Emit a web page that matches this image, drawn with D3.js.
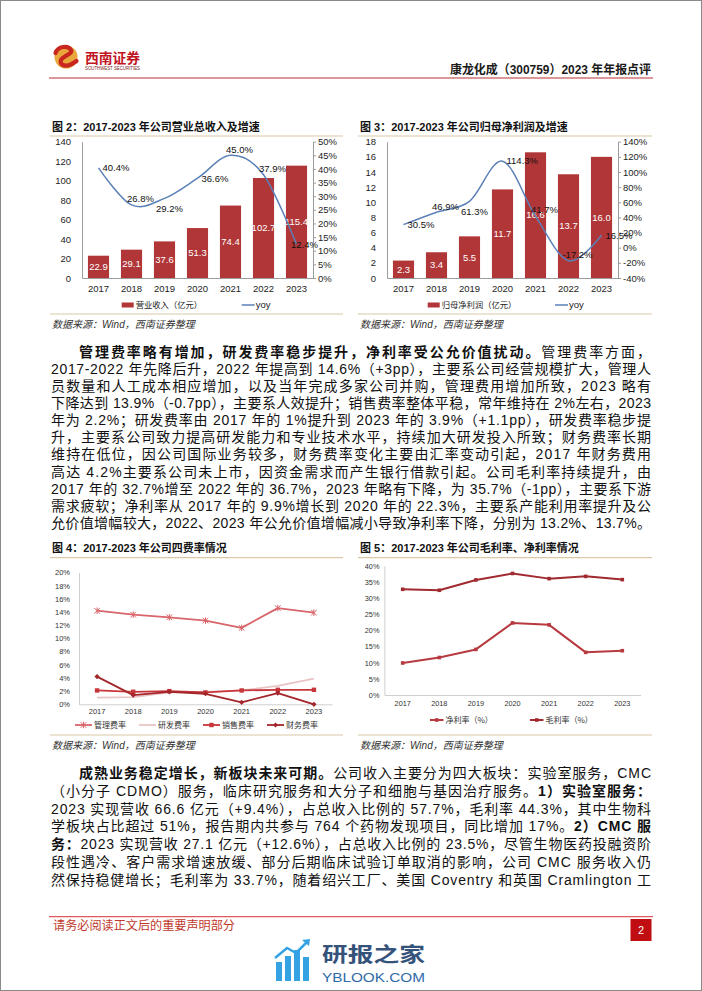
<!DOCTYPE html>
<html><head><meta charset="utf-8">
<script src="https://cdn.jsdelivr.net/npm/d3@7"></script>
<style>
body{margin:0;background:#fff;}
#page{position:relative;width:702px;height:991px;overflow:hidden;background:#fff;}
svg{position:absolute;left:0;top:0;}
</style></head>
<body><div id="page"></div>
<script>
// ---------------- DATA ----------------
const years = ['2017','2018','2019','2020','2021','2022','2023'];
// Fig 2
const revenue = [22.9, 29.1, 37.6, 51.3, 74.4, 102.7, 115.4];
const revenueYoy = [40.4, 26.8, 29.2, 36.6, 45.0, 37.9, 12.4];
const revLeftTicks = [0,20,40,60,80,100,120,140];
const revRightTicks = [0,5,10,15,20,25,30,35,40,45,50];
const revYoyLabelPlace = ['r','a','b','r','a','a','c'];
// Fig 3
const profit = [2.3, 3.4, 5.5, 11.7, 16.6, 13.7, 16.0];
const profitYoy = [30.5, 46.9, 61.3, 114.3, 41.7, -17.2, 16.5];
const profLeftTicks = [0,2,4,6,8,10,12,14,16,18];
const profRightTicks = [-40,-20,0,20,40,60,80,100,120,140];
const profYoyLabelPlace = ['r','a','b','r','a','a','r'];
// Fig 4
const mgmtRate  = [14.2, 13.6, 13.2, 12.7, 11.6, 14.6, 13.9];
const rdRate    = [1.0, 1.1, 1.8, 1.9, 2.1, 2.8, 3.9];
const salesRate = [2.1, 1.9, 2.0, 1.8, 2.1, 2.2, 2.2];
const finRate   = [4.2, 1.4, 1.9, 1.6, 0.3, 1.7, 0.0];
const feeTicks = [0,2,4,6,8,10,12,14,16,18,20];
const feeNames = ['管理费率','研发费率','销售费率','财务费率'];
// Fig 5
const netMargin   = [9.9, 11.6, 14.1, 22.3, 21.7, 13.2, 13.7];
const grossMargin = [32.7, 32.4, 35.6, 37.6, 36.0, 36.7, 35.7];
const marginTicks = [0,5,10,15,20,25,30,35,40];
const marginNames = ['净利率（%）','毛利率（%）'];

const titles = ['图 2：2017-2023 年公司营业总收入及增速','图 3：2017-2023 年公司归母净利润及增速',
                '图 4：2017-2023 年公司四费率情况','图 5：2017-2023 年公司毛利率、净利率情况'];
const sourceText = '数据来源：Wind，西南证券整理';

const para1 = [
 [['管理费率略有增加，研发费率稳步提升，净利率受公允价值扰动。',1],['管理费率方面，',0]],
 [['2017-2022 年先降后升，2022 年提高到 14.6%（+3pp），主要系公司经营规模扩大，管理人',0]],
 [['员数量和人工成本相应增加，以及当年完成多家公司并购，管理费用增加所致，2023 略有',0]],
 [['下降达到 13.9%（-0.7pp），主要系人效提升；销售费率整体平稳，常年维持在 2%左右，2023',0]],
 [['年为 2.2%；研发费率由 2017 年的 1%提升到 2023 年的 3.9%（+1.1pp），研发费率稳步提',0]],
 [['升，主要系公司致力提高研发能力和专业技术水平，持续加大研发投入所致；财务费率长期',0]],
 [['维持在低位，因公司国际业务较多，财务费率变化主要由汇率变动引起，2017 年财务费用',0]],
 [['高达 4.2%主要系公司未上市，因资金需求而产生银行借款引起。公司毛利率持续提升，由',0]],
 [['2017 年的 32.7%增至 2022 年的 36.7%，2023 年略有下降，为 35.7%（-1pp），主要系下游',0]],
 [['需求疲软；净利率从 2017 年的 9.9%增长到 2020 年的 22.3%，主要系产能利用率提升及公',0]],
 [['允价值增幅较大，2022、2023 年公允价值增幅减小导致净利率下降，分别为 13.2%、13.7%。',0]]
];
const para2 = [
 [['成熟业务稳定增长，新板块未来可期。',1],['公司收入主要分为四大板块：实验室服务，CMC',0]],
 [['（小分子 CDMO）服务，临床研究服务和大分子和细胞与基因治疗服务。',0],['1）实验室服务：',1]],
 [['2023 实现营收 66.6 亿元（+9.4%），占总收入比例的 57.7%，毛利率 44.3%，其中生物科',0]],
 [['学板块占比超过 51%，报告期内共参与 764 个药物发现项目，同比增加 17%。',0],['2）CMC 服',1]],
 [['务：',1],['2023 实现营收 27.1 亿元（+12.6%），占总收入比例的 23.5%，尽管生物医药投融资阶',0]],
 [['段性遇冷、客户需求增速放缓、部分后期临床试验订单取消的影响，公司 CMC 服务收入仍',0]],
 [['然保持稳健增长；毛利率为 33.7%，随着绍兴工厂、美国 Coventry 和英国 Cramlington 工',0]]
];

// ---------------- STYLE ----------------
const FONT = '"Liberation Sans","Noto Sans CJK SC",Arial,sans-serif';
const CJK = '"Noto Sans CJK SC","Liberation Sans",sans-serif';
const BAR = '#b13638';
const BLUE = '#5b80b8';
const TAN = '#dcc7a6';

const svg = d3.select('#page').append('svg').attr('width',702).attr('height',991);

// page border
svg.append('rect').attr('x',0.5).attr('y',0.5).attr('width',701).attr('height',990)
  .attr('fill','none').attr('stroke','#8a8a8a').attr('stroke-width',1);

// ---------------- HEADER ----------------
const hdr = svg.append('g');
hdr.append('circle').attr('cx',66).attr('cy',57).attr('r',11.5).attr('fill','#eaa73c');
hdr.append('path').attr('d','M55.5,53 C58,46 68,45 71,50 C73,54 63,56 61,60 C59,65 66,69 76.5,61')
  .attr('fill','none').attr('stroke','#c8261e').attr('stroke-width',4.2).attr('stroke-linecap','round');
hdr.append('text').attr('x',85).attr('y',63).text('西南证券')
  .attr('font-family',CJK).attr('font-weight','bold').attr('font-size',13.5).attr('fill','#c0141e')
  .attr('textLength',55).attr('lengthAdjust','spacingAndGlyphs');
hdr.append('text').attr('x',85).attr('y',69.5).text('SOUTHWEST SECURITIES')
  .attr('font-family',FONT).attr('font-size',4.6).attr('fill','#7a1a1a')
  .attr('textLength',55).attr('lengthAdjust','spacingAndGlyphs');
hdr.append('text').attr('x',651).attr('y',74).attr('text-anchor','end').text('康龙化成（300759）2023 年年报点评')
  .attr('font-family',FONT).attr('font-weight','bold').attr('font-size',12.5).attr('fill','#1a1a1a')
  .attr('textLength',201).attr('lengthAdjust','spacingAndGlyphs');
hdr.append('line').attr('x1',49).attr('x2',653).attr('y1',78).attr('y2',78)
  .attr('stroke','#d27476').attr('stroke-width',1.3);

// ---------------- FRAMES ----------------
function frame(x0, x1, title, titleY, lineY, bottomY, srcY){
  const g = svg.append('g');
  g.append('text').attr('x',x0+2).attr('y',titleY).text(title)
   .attr('font-family',FONT).attr('font-weight','bold').attr('font-size',11).attr('fill','#111');
  g.append('line').attr('x1',x0).attr('x2',x1).attr('y1',lineY).attr('y2',lineY).attr('stroke',TAN).attr('stroke-width',1.2);
  g.append('line').attr('x1',x0).attr('x2',x1).attr('y1',bottomY).attr('y2',bottomY).attr('stroke',TAN).attr('stroke-width',1.2);
  g.append('text').attr('x',x0+2).attr('y',srcY).text(sourceText)
   .attr('font-family',FONT).attr('font-style','italic').attr('font-size',10).attr('fill','#333');
}
frame(50, 343, titles[0], 131, 136, 314, 328);
frame(358, 652, titles[1], 131, 136, 314, 328);
frame(50, 343, titles[2], 551.5, 557.7, 735, 749);
frame(358, 652, titles[3], 551.5, 557.7, 735, 749);

// ---------------- DUAL AXIS BAR+LINE ----------------
function styleAxis(a, size){
  a.selectAll('text').attr('font-family',FONT).attr('font-size',size).attr('fill','#1e1e1e');
  a.select('.domain').attr('stroke','#9c9c9c');
  a.selectAll('.tick line').attr('stroke','#9c9c9c');
}
function dualChart(c){
  const g = svg.append('g');
  const x = d3.scaleBand().domain(years).range([c.x0,c.x1]).paddingInner(0.36).paddingOuter(0.18);
  const yL = d3.scaleLinear().domain([c.leftTicks[0], c.leftTicks[c.leftTicks.length-1]]).range([c.yBot,c.yTop]);
  const yR = d3.scaleLinear().domain([c.rightTicks[0], c.rightTicks[c.rightTicks.length-1]]).range([c.yBot,c.yTop]);
  const aL = g.append('g').attr('transform',`translate(${c.x0},0)`)
    .call(d3.axisLeft(yL).tickValues(c.leftTicks).tickSize(0).tickPadding(11).tickFormat(d=>String(d)));
  const aR = g.append('g').attr('transform',`translate(${c.x1},0)`)
    .call(d3.axisRight(yR).tickValues(c.rightTicks).tickSizeInner(3).tickSizeOuter(0).tickPadding(2).tickFormat(d=>d+'%'));
  const aB = g.append('g').attr('transform',`translate(0,${c.yBot})`)
    .call(d3.axisBottom(x).tickSize(0).tickPadding(7));
  [aL,aR,aB].forEach(a=>styleAxis(a,9.5));
  const cx = (i)=>x(years[i])+x.bandwidth()/2;
  g.selectAll('rect.bar').data(c.bars).join('rect').attr('class','bar')
    .attr('x',(d,i)=>x(years[i])).attr('y',d=>yL(d)).attr('width',x.bandwidth())
    .attr('height',d=>yL(0)-yL(d)).attr('fill',BAR);
  g.selectAll('text.bl').data(c.bars).join('text').attr('class','bl')
    .attr('x',(d,i)=>cx(i)).attr('y',d=>(yL(d)+yL(0))/2).attr('dy','0.35em')
    .attr('text-anchor','middle').text(d=>d.toFixed(1))
    .attr('font-family',FONT).attr('font-size',9.5).attr('fill','#fff');
  const line = d3.line().x((d,i)=>cx(i)).y(d=>yR(d)).curve(d3.curveCardinal.tension(0));
  g.append('path').attr('d',line(c.line)).attr('fill','none').attr('stroke',BLUE).attr('stroke-width',1.5);
  const place = {r:{a:'start',dx:4,dy:0}, a:{a:'middle',dx:9,dy:-6}, b:{a:'middle',dx:5,dy:10}, c:{a:'middle',dx:8,dy:0}};
  g.selectAll('text.ll').data(c.line).join('text').attr('class','ll')
    .attr('x',(d,i)=>cx(i)+place[c.place[i]].dx).attr('y',(d,i)=>yR(d)+place[c.place[i]].dy).attr('dy','0.35em')
    .attr('text-anchor',(d,i)=>place[c.place[i]].a).text(d=>d.toFixed(1)+'%')
    .attr('font-family',FONT).attr('font-size',9.5).attr('fill','#111');
  // legend
  const lg = g.append('g');
  lg.append('rect').attr('x',c.legX).attr('y',c.legY-2.5).attr('width',12).attr('height',5).attr('fill',BAR);
  lg.append('text').attr('x',c.legX+14).attr('y',c.legY).attr('dy','0.35em').text(c.barName)
    .attr('font-family',CJK).attr('font-size',8.3).attr('fill','#222');
  lg.append('line').attr('x1',c.legX2).attr('x2',c.legX2+13).attr('y1',c.legY).attr('y2',c.legY)
    .attr('stroke',BLUE).attr('stroke-width',1.5);
  lg.append('text').attr('x',c.legX2+14).attr('y',c.legY).attr('dy','0.35em').text('yoy')
    .attr('font-family',FONT).attr('font-size',9.5).attr('fill','#222');
}
dualChart({x0:82,x1:313,yTop:141.7,yBot:278,bars:revenue,line:revenueYoy,leftTicks:revLeftTicks,
  rightTicks:revRightTicks,place:revYoyLabelPlace,legX:121.7,legX2:241.7,legY:305,barName:'营业收入（亿元）'});
dualChart({x0:387,x1:618,yTop:141.7,yBot:278,bars:profit,line:profitYoy,leftTicks:profLeftTicks,
  rightTicks:profRightTicks,place:profYoyLabelPlace,legX:427.7,legX2:555,legY:305,barName:'归母净利润（亿元）'});

// ---------------- LINE CHARTS ----------------
function marker(g, type, x, y, color){
  if(type==='star'){
    g.append('path').attr('d',`M${x-2.8},${y-2.8}L${x+2.8},${y+2.8}M${x-2.8},${y+2.8}L${x+2.8},${y-2.8}M${x},${y-3.3}L${x},${y+3.3}`)
     .attr('stroke',color).attr('stroke-width',1).attr('fill','none');
  } else if(type==='square'){
    g.append('rect').attr('x',x-2.2).attr('y',y-2.2).attr('width',4.4).attr('height',4.4).attr('fill',color);
  } else if(type==='sq3'){
    g.append('rect').attr('x',x-1.8).attr('y',y-1.8).attr('width',3.6).attr('height',3.6).attr('fill',color);
  } else if(type==='dot'){
    g.append('path').attr('d',`M${x},${y-2.6}L${x+2.6},${y}L${x},${y+2.6}L${x-2.6},${y}Z`).attr('fill',color);
  }
}
function lineChart(c){
  const g = svg.append('g');
  const x = d3.scaleBand().domain(years).range([c.x0,c.x1]).padding(0);
  const y = d3.scaleLinear().domain([c.ticks[0], c.ticks[c.ticks.length-1]]).range([c.yBot,c.yTop]);
  const cx = (i)=>x(years[i])+x.bandwidth()/2;
  const aL = g.append('g').attr('transform',`translate(${c.x0},0)`)
    .call(d3.axisLeft(y).tickValues(c.ticks).tickSize(0).tickPadding(c.lpad).tickFormat(d=>d+'%'));
  const aB = g.append('g').attr('transform',`translate(0,${c.yBot})`)
    .call(d3.axisBottom(x).tickSize(0).tickPadding(c.bpad));
  [aL,aB].forEach(a=>{styleAxis(a,c.fs); a.select('.domain').attr('stroke','#cfcfcf'); a.selectAll('text').attr('fill','#333');});
  c.series.forEach(s=>{
    const line = d3.line().x((d,i)=>cx(i)).y(d=>y(d));
    g.append('path').attr('d',line(s.values)).attr('fill','none').attr('stroke',s.color)
      .attr('stroke-width',s.w).attr('stroke-linejoin','round');
    s.values.forEach((v,i)=>marker(g,s.marker,cx(i),y(v),s.color));
  });
  c.legendOrder.forEach((s,k)=>{
    const lx = c.legX + k*c.legStep;
    g.append('line').attr('x1',lx).attr('x2',lx+c.legLen).attr('y1',c.legY).attr('y2',c.legY)
      .attr('stroke',s.color).attr('stroke-width',s.w);
    marker(g,s.marker,lx+c.legLen/2,c.legY,s.color);
    g.append('text').attr('x',lx+c.legLen+2).attr('y',c.legY).attr('dy','0.36em').text(s.name)
      .attr('font-family',CJK).attr('font-size',8).attr('fill','#333');
  });
}
const feeSeries = [
  {name:feeNames[0], values:mgmtRate,  color:'#d8656a', w:1.8, marker:'star'},
  {name:feeNames[1], values:rdRate,    color:'#e9c4c4', w:1.8, marker:'none'},
  {name:feeNames[2], values:salesRate, color:'#c7363b', w:1.8, marker:'square'},
  {name:feeNames[3], values:finRate,   color:'#a3262b', w:1.8, marker:'dot'}
];
lineChart({x0:79,x1:332,yTop:572.5,yBot:704.3,ticks:feeTicks,lpad:9,bpad:4,fs:7.5,
  series:[feeSeries[1],feeSeries[2],feeSeries[0],feeSeries[3]],legendOrder:feeSeries,
  legX:75,legStep:64,legLen:17,legY:725});
const marginSeries = [
  {name:marginNames[0], values:netMargin,   color:'#b63a3f', w:2, marker:'sq3'},
  {name:marginNames[1], values:grossMargin, color:'#a02a2f', w:2, marker:'sq3'}
];
lineChart({x0:384.4,x1:640.6,yTop:565.7,yBot:695,ticks:marginTicks,lpad:5,bpad:6,fs:7.3,
  series:marginSeries,legendOrder:marginSeries,legX:430,legStep:100,legLen:13.5,legY:720});

// ---------------- BODY TEXT ----------------
function paragraph(lines, y0, step, indentX){
  lines.forEach((segs,i)=>{
    const x = i===0 ? indentX : 51;
    const t = svg.append('text').attr('x',x).attr('y',y0+i*step)
      .attr('font-family',FONT).attr('font-size',14).attr('fill','#111')
      .attr('textLength',651-x).attr('lengthAdjust','spacing');
    segs.forEach(s=>{ t.append('tspan').text(s[0]).attr('font-weight',s[1]?'bold':'normal'); });
  });
}
paragraph(para1, 356.5, 17.16, 79);
paragraph(para2, 778, 17.8, 79);

// ---------------- FOOTER ----------------
svg.append('line').attr('x1',49).attr('x2',653).attr('y1',916.7).attr('y2',916.7).attr('stroke','#e05a62').attr('stroke-width',1.3);
svg.append('text').attr('x',53).attr('y',929.5).text('请务必阅读正文后的重要声明部分')
  .attr('font-family',CJK).attr('font-size',12).attr('fill','#c0392b')
  .attr('textLength',182).attr('lengthAdjust','spacingAndGlyphs');
svg.append('rect').attr('x',630.5).attr('y',919).attr('width',21).attr('height',22).attr('fill','#c00d12');
svg.append('text').attr('x',641).attr('y',930).attr('dy','0.35em').attr('text-anchor','middle').text('2')
  .attr('font-family',FONT).attr('font-size',11).attr('fill','#fff');
// watermark
const wm = svg.append('g');
[[276,962,6,19],[285,956,6,25],[294,950,6,31],[303,957,6,24]].forEach(r=>{
  wm.append('rect').attr('x',r[0]).attr('y',r[1]).attr('width',r[2]).attr('height',r[3]).attr('fill','#35a3e3');
});
wm.append('path').attr('d','M275,958 L287,948 L296,953 L308,941').attr('fill','none').attr('stroke','#35a3e3').attr('stroke-width',2.5);
wm.append('path').attr('d','M302,940 L310,939 L309,946 Z').attr('fill','#35a3e3');
wm.append('text').attr('x',322).attr('y',962).text('研报之家')
  .attr('font-family',CJK).attr('font-weight','bold').attr('font-size',20).attr('fill','#34527a')
  .attr('textLength',103).attr('lengthAdjust','spacingAndGlyphs');
wm.append('text').attr('x',322).attr('y',982).text('YBLOOK.COM')
  .attr('font-family',FONT).attr('font-size',13).attr('fill','#2f6aa8')
  .attr('textLength',103).attr('lengthAdjust','spacingAndGlyphs');
</script>
</body></html>
